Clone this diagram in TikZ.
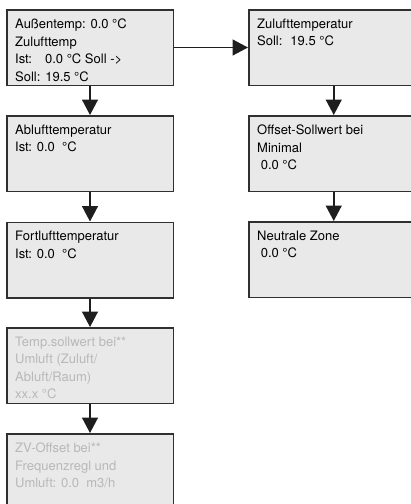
\documentclass[tikz,border=0pt]{standalone}
\usepackage{fontspec}
\setmainfont{TeX Gyre Heros}
\usetikzlibrary{arrows.meta}
\definecolor{boxfill}{HTML}{E9E9E9}
\definecolor{boxline}{HTML}{303030}
\definecolor{greytext}{HTML}{B8B8B8}
\definecolor{arrowcol}{HTML}{1E1E1E}
\begin{document}
\begin{tikzpicture}[x=1pt,y=-1pt,
 box/.style={draw=boxline, line width=1.5pt, fill=boxfill, minimum width=166.5pt, minimum height=75.5pt, inner sep=0pt, anchor=north west},
 rbox/.style={box, minimum width=170pt},
 txt/.style={anchor=north west, inner sep=0pt, align=left, font=\fontsize{13}{17.6}\selectfont, text=black},
 gtxt/.style={txt, text=greytext},
 flow/.style={-{Triangle[width=16pt,length=15.5pt]}, line width=1.5pt, draw=arrowcol, fill=arrowcol}
]
\useasboundingbox (0,0) rectangle (411,504);
\node[box] (l1) at (6,9) {};
\node[box] (l2) at (6,115) {};
\node[box] (l3) at (6,221.5) {};
\node[box] (l4) at (6,327) {};
\node[box] (l5) at (6,433) {};
\node[rbox] (r1) at (248,9) {};
\node[rbox] (r2) at (248,115) {};
\node[rbox] (r3) at (248,221) {};

\node[txt] (t1) at ([shift={(9,9.5)}]l1.north west) {Außentemp: 0.0 °C\\Zulufttemp\\Ist:\hspace{13pt}0.0 °C Soll ->\\Soll: 19.5 °C};
\node[txt] (t2) at ([shift={(9,9.5)}]l2.north west) {Ablufttemperatur\\Ist: 0.0\ \ °C};
\node[txt] (t3) at ([shift={(9,9.5)}]l3.north west) {Fortlufttemperatur\\Ist: 0.0\ \ °C};
\node[gtxt] (t4) at ([shift={(9,9.5)}]l4.north west) {Temp.sollwert bei**\\Umluft (Zuluft/\\Abluft/Raum)\\xx.x °C};
\node[gtxt] (t5) at ([shift={(9,9.5)}]l5.north west) {ZV-Offset bei**\\Frequenzregl und\\Umluft: 0.0\ \ m3/h};
\node[txt] (u1) at ([shift={(9,9.5)}]r1.north west) {Zulufttemperatur\\Soll:\hspace{8pt}19.5 °C};
\node[txt] (u2) at ([shift={(9,9.5)}]r2.north west) {Offset-Sollwert bei\\Minimal\\\hspace{3.6pt}0.0 °C};
\node[txt] (u3) at ([shift={(9,9.5)}]r3.north west) {Neutrale Zone\\\hspace{3.6pt}0.0 °C};

\draw[flow] (l1) -- (l2);
\draw[flow] (l2) -- (l3);
\draw[flow] (l3) -- (l4);
\draw[flow] (l4) -- (l5);
\draw[flow] (l1) -- (r1);
\draw[flow] (r1) -- (r2);
\draw[flow] (r2) -- (r3);
\end{tikzpicture}
\end{document}
